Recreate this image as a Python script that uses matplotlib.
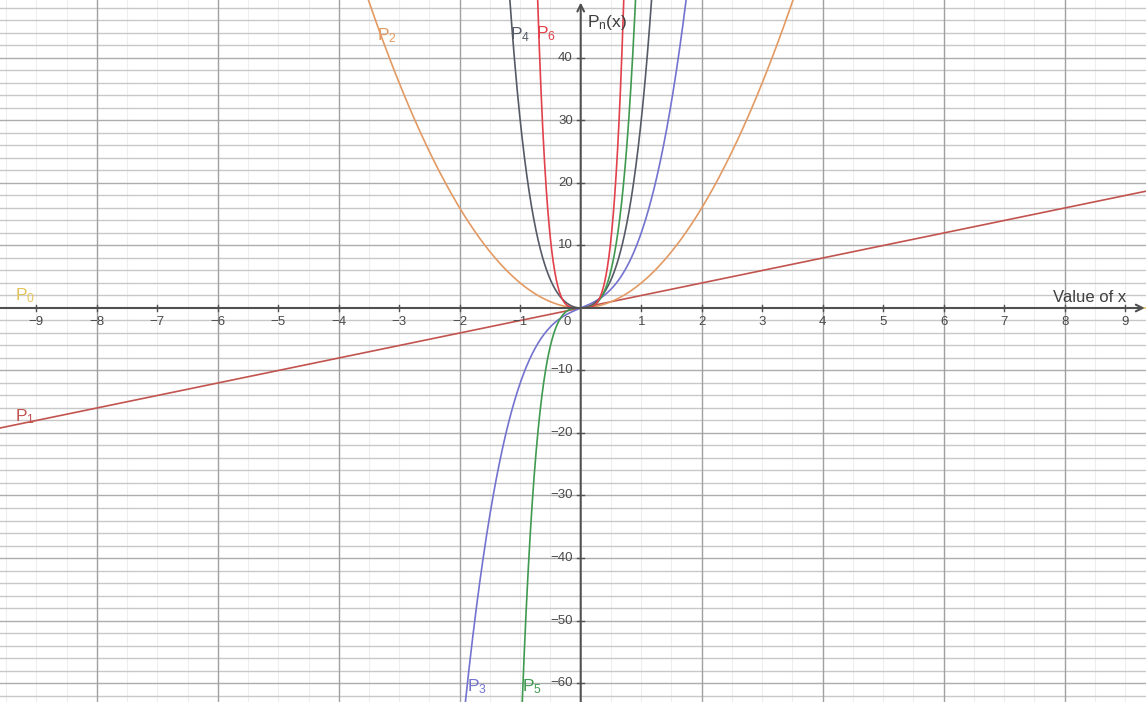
import numpy as np
import matplotlib
matplotlib.use("Agg")
import matplotlib.pyplot as plt

plt.rcParams['font.family'] = ['Liberation Sans', 'DejaVu Sans']
plt.rcParams['mathtext.default'] = 'regular'

# Polynomial coefficients, highest power first
p0 = [0.0]
p1 = [2.0, 0.0]
p2 = [4.0, 0.0, 0.0]
p3 = [8.0, 0.0, 4.0, 0.0]
p4 = [16.0, 0.0, 14.0, 0.0, 0.0]
p5 = [32.0, 0.0, 40.0, 0.0, 0.0, 0.0]
p6 = [64.0, 0.0, 160.0, 0.0, 0.0, 0.0, 0.0]

curve_names = ["P$_0$", "P$_1$", "P$_2$", "P$_3$", "P$_4$", "P$_5$", "P$_6$"]
x_tick_values = [-9, -8, -7, -6, -5, -4, -3, -2, -1, 1, 2, 3, 4, 5, 6, 7, 8, 9]
y_tick_values = [40, 30, 20, 10, -10, -20, -30, -40, -50, -60]

polys = [p0, p1, p2, p3, p4, p5, p6]
colors = ["#e3c35a", "#c25450", "#e39a62", "#7373cf", "#555a66", "#3f9a4f", "#e2404a"]
line_widths = [1.2, 1.2, 1.2, 1.2, 1.2, 1.2, 1.2]
# label anchors (left, baseline) in data units
label_pos = [(-9.36, 1.3), (-9.36, -18.2), (-3.37, 42.9), (-1.88, -61.4),
             (-1.17, 43.0), (-0.97, -61.4), (-0.74, 43.2)]

XMIN, XMAX = -9.60, 9.345
YMIN, YMAX = -63.04, 49.28

fig = plt.figure(figsize=(11.46, 7.02), dpi=100)
ax = fig.add_axes([0, 0, 1, 1])
ax.set_xlim(XMIN, XMAX)
ax.set_ylim(YMIN, YMAX)
ax.set_axis_off()

# grid
for gx in np.arange(-9.5, 9.6, 0.5):
    if abs(gx) < 1e-9:
        continue
    if abs(gx % 2) < 1e-9:
        ax.axvline(gx, color="#a0a0a0", lw=1.0, zorder=1)
    else:
        ax.axvline(gx, color="#eeeeee", lw=0.8, zorder=0.5)
for gy in np.arange(-62, 50, 2):
    if gy == 0:
        continue
    c = "#adadad" if gy % 10 == 0 else "#c8c8c8"
    ax.axhline(gy, color=c, lw=1.0, zorder=0.8)

# curves (drawn beneath the axes lines)
xs = np.linspace(XMIN, XMAX, 4000)
for coef, col, lw in zip(polys, colors, line_widths):
    ys = np.polyval(coef, xs)
    ax.plot(xs, ys, color=col, lw=lw, zorder=2, clip_on=True)

# axes with arrow heads
ax.annotate("", xy=(XMAX - 0.02, 0), xytext=(XMIN, 0),
            arrowprops=dict(arrowstyle="->", color="#505050", lw=1.5,
                            shrinkA=0, shrinkB=0, mutation_scale=12), zorder=3)
ax.annotate("", xy=(0, YMAX - 0.4), xytext=(0, YMIN),
            arrowprops=dict(arrowstyle="->", color="#505050", lw=1.5,
                            shrinkA=0, shrinkB=0, mutation_scale=12), zorder=3)

# ticks and tick labels
tick_col = "#4a4a4a"
for xt in x_tick_values:
    ax.plot([xt, xt], [-0.55, 0.55], color="#505050", lw=1.0, zorder=3)
    ax.text(xt, -2.25, f"{xt}".replace("-", "\u2212"), ha="center", va="center",
            fontsize=9.5, color=tick_col, zorder=4)
for yt in y_tick_values:
    ax.plot([-0.06, 0.06], [yt, yt], color="#505050", lw=1.0, zorder=3)
    ax.text(-0.13, yt, f"{yt}".replace("-", "\u2212"), ha="right", va="center",
            fontsize=9.5, color=tick_col, zorder=4)
ax.text(-0.23, -2.25, "0", ha="center", va="center", fontsize=9.5,
        color=tick_col, zorder=4)

# axis titles
ax.text(7.81, 0.95, "Value of x", ha="left", va="baseline", fontsize=12,
        color="#404040", zorder=4)
ax.text(0.105, 45.0, "P$_n$(x)", ha="left", va="baseline", fontsize=12.5,
        color="#404040", zorder=4)

for name, col, (lx, ly) in zip(curve_names, colors, label_pos):
    ax.text(lx, ly, name, ha="left", va="baseline", fontsize=12.5,
            color=col, zorder=4)

fig.savefig("out.png", dpi=100)
